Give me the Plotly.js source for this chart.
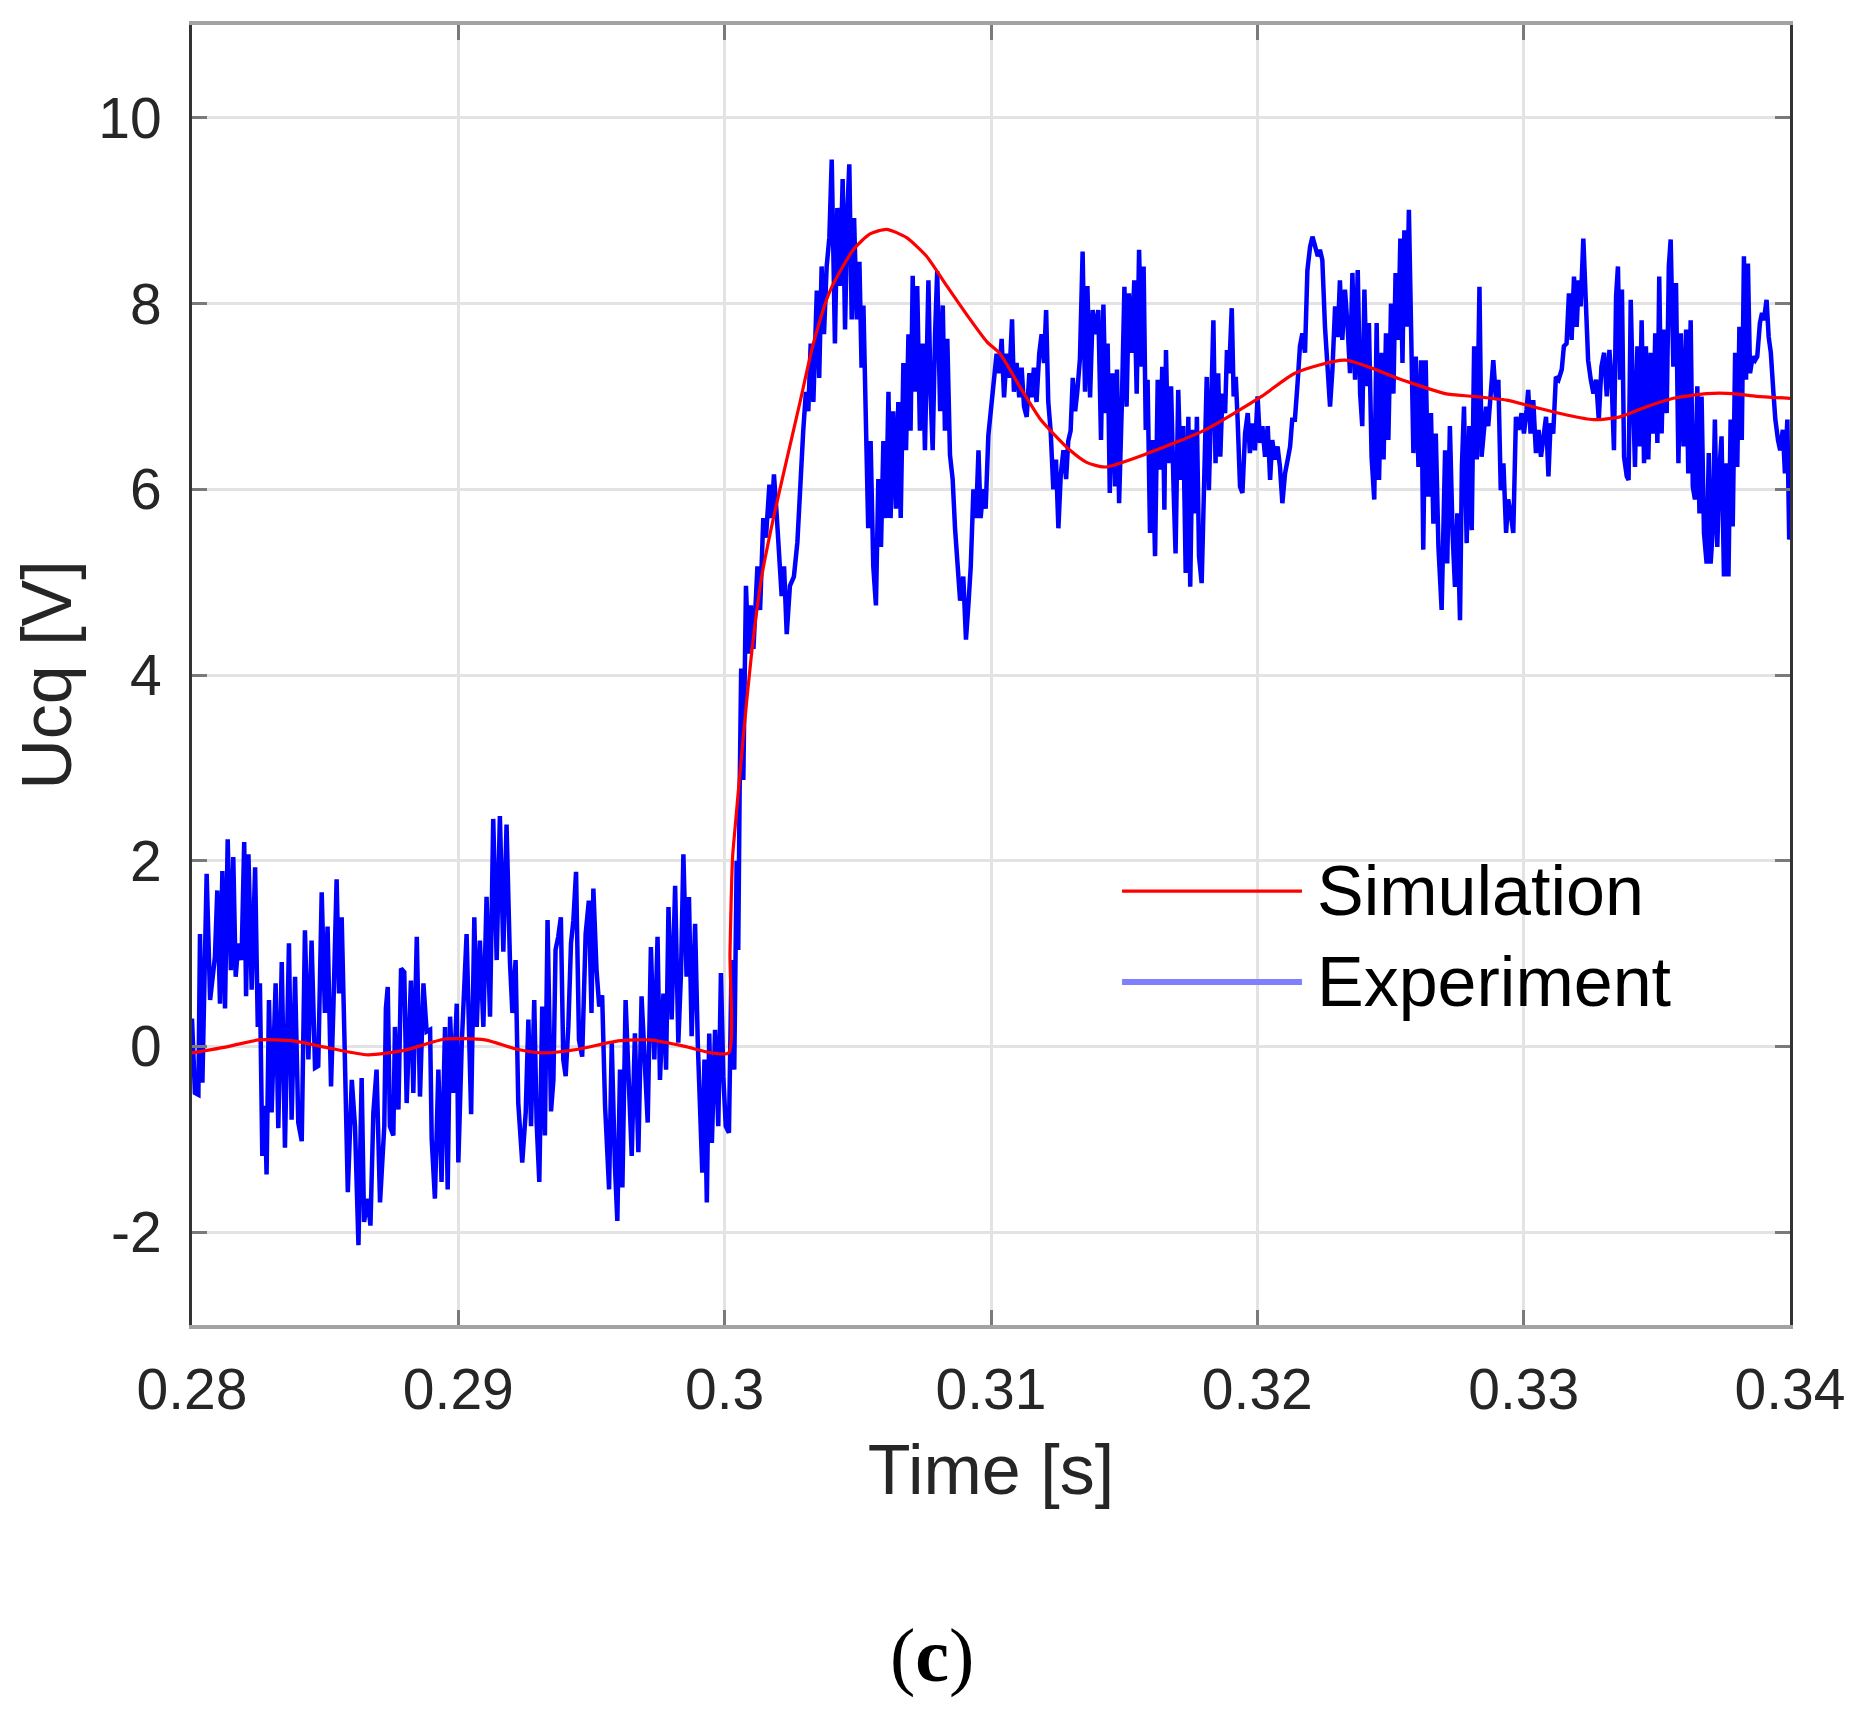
<!DOCTYPE html>
<html>
<head>
<meta charset="utf-8">
<script src="https://cdn.plot.ly/plotly-3.0.1.min.js"></script>
<style>
html,body{margin:0;padding:0;background:#fff;}
#chart{width:1863px;height:1729px;}
</style>
</head>
<body>
<div id="chart"></div>
<script>
// ---- Data ----
const simT = [0.28000,0.28120,0.28250,0.28380,0.28520,0.28660,0.28800,0.28950,0.29100,0.29220,0.29320,0.29450,0.29600,0.29720,0.29850,0.29950,0.30015,0.30020,0.30030,0.30039,0.30070,0.30101,0.30139,0.30183,0.30233,0.30283,0.30333,0.30396,0.30483,0.30546,0.30608,0.30683,0.30758,0.30834,0.30909,0.30984,0.31034,0.31109,0.31184,0.31234,0.31297,0.31359,0.31428,0.31591,0.31804,0.32016,0.32141,0.32329,0.32542,0.32705,0.32811,0.32936,0.33061,0.33161,0.33262,0.33362,0.33462,0.33562,0.33687,0.33787,0.33875,0.34000];
const simV = [-0.07,-0.01,0.07,0.06,-0.02,-0.09,-0.04,0.08,0.07,-0.03,-0.07,-0.03,0.06,0.07,0.00,-0.07,-0.07,1.00,2.05,2.35,3.34,4.23,5.06,5.69,6.32,6.94,7.57,8.14,8.58,8.75,8.80,8.71,8.51,8.19,7.88,7.59,7.46,7.10,6.76,6.60,6.42,6.29,6.24,6.39,6.64,7.00,7.25,7.39,7.18,7.03,7.00,6.96,6.87,6.80,6.75,6.78,6.89,6.98,7.03,7.03,7.00,6.98];

const expT = [
0.28000,0.28011,0.28024,0.28030,0.28039,0.28055,0.28068,0.28086,0.28095,0.28105,0.28114,0.28124,0.28134,0.28146,0.28155,0.28164,0.28174,0.28186,0.28196,0.28203,0.28212,0.28224,0.28237,0.28247,0.28255,0.28264,0.28274,0.28280,0.28289,0.28299,
0.28314,0.28324,0.28337,0.28349,0.28364,0.28374,0.28387,0.28399,0.28412,0.28424,0.28437,0.28449,0.28462,0.28474,0.28487,0.28499,0.28509,0.28522,0.28531,0.28543,0.28552,0.28562,0.28572,0.28585,0.28600,0.28612,0.28625,0.28637,0.28646,0.28660,
0.28670,0.28681,0.28693,0.28706,0.28722,0.28728,0.28735,0.28743,0.28756,0.28762,0.28775,0.28785,0.28797,0.28806,0.28822,0.28831,0.28844,0.28856,0.28869,0.28881,0.28894,0.28900,0.28912,0.28925,0.28937,0.28950,0.28960,0.28969,0.28981,0.28994,
0.29000,0.29013,0.29031,0.29048,0.29060,0.29069,0.29081,0.29094,0.29106,0.29119,0.29131,0.29144,0.29156,0.29169,0.29181,
0.29194,0.29203,0.29215,0.29225,0.29240,0.29253,0.29263,0.29273,0.29285,0.29294,0.29304,0.29315,0.29325,0.29335,0.29348,0.29357,0.29365,0.29375,0.29385,0.29394,0.29403,0.29413,0.29423,0.29432,0.29442,0.29453,0.29465,0.29478,0.29490,0.29500,
0.29507,0.29519,0.29529,0.29540,0.29551,0.29566,0.29576,0.29588,0.29597,0.29607,0.29616,0.29628,0.29641,0.29651,0.29663,0.29676,0.29688,0.29701,0.29711,0.29723,0.29736,0.29748,0.29757,0.29770,0.29780,0.29789,0.29801,0.29814,0.29826,0.29836,
0.29845,0.29857,0.29866,0.29876,0.29889,0.29899,0.29907,0.29916,0.29924,0.29933,0.29942,0.29952,0.29964,0.29976,0.29986,0.29995,0.30004,0.30016,0.30026,0.30036,0.30045,0.30051,0.30056,0.30062,0.30070,
0.30080,0.30089,0.30098,0.30108,0.30123,0.30133,0.30145,0.30155,0.30168,0.30176,0.30185,0.30195,0.30205,0.30214,0.30223,0.30233,0.30245,0.30260,0.30273,0.30283,0.30295,0.30305,0.30314,0.30323,0.30333,0.30346,0.30355,0.30364,0.30373,0.30383,
0.30393,0.30402,0.30414,0.30423,0.30433,0.30443,0.30452,0.30461,0.30468,0.30477,0.30486,0.30496,0.30506,0.30514,0.30521,0.30531,0.30539,0.30548,0.30558,0.30568,0.30577,0.30587,0.30596,0.30606,0.30615,0.30623,0.30633,0.30643,0.30652,0.30661,
0.30671,0.30681,0.30690,0.30698,0.30706,0.30715,0.30723,0.30733,0.30743,0.30752,0.30765,0.30773,0.30781,0.30790,0.30798,0.30809,0.30819,0.30827,0.30836,0.30846,0.30856,0.30865,0.30874,0.30884,0.30896,0.30906,0.30915,0.30924,0.30934,0.30944,
0.30953,0.30961,0.30971,0.30980,0.30990,0.30999,0.31009,0.31021,0.31031,0.31040,0.31049,0.31059,0.31069,0.31079,0.31086,0.31096,0.31106,0.31115,0.31124,0.31134,0.31144,0.31153,0.31161,0.31171,0.31181,0.31190,0.31199,0.31207,0.31215,0.31224,
0.31234,0.31244,0.31253,0.31262,0.31272,0.31282,0.31290,0.31299,0.31307,0.31316,0.31324,0.31334,0.31344,0.31353,0.31362,0.31372,0.31382,0.31391,
0.31403,0.31413,0.31422,0.31431,0.31438,0.31446,0.31456,0.31466,0.31473,0.31481,0.31491,0.31501,0.31509,0.31518,0.31528,0.31538,0.31547,0.31556,0.31566,0.31573,0.31581,0.31588,0.31597,0.31606,0.31616,0.31626,0.31635,0.31643,0.31651,0.31657,
0.31666,0.31676,0.31686,0.31693,0.31703,0.31713,0.31722,0.31731,0.31741,0.31748,0.31757,0.31766,0.31773,0.31781,0.31791,0.31801,0.31810,0.31818,0.31828,0.31835,0.31843,0.31853,0.31861,0.31869,0.31879,0.31886,0.31894,0.31904,0.31911,0.31919,
0.31926,0.31935,0.31944,0.31954,0.31964,0.31972,0.31981,0.31991,0.32001,0.32010,0.32019,0.32029,0.32039,0.32048,0.32056,0.32066,0.32076,0.32085,0.32094,0.32104,0.32114,0.32123,0.32131,0.32141,0.32151,0.32160,0.32169,0.32179,0.32188,0.32198,
0.32207,0.32217,0.32227,0.32235,0.32244,0.32254,0.32264,0.32273,0.32282,0.32292,0.32302,0.32310,0.32319,0.32329,0.32339,0.32348,0.32357,0.32367,0.32377,0.32386,0.32394,0.32402,0.32411,0.32419,0.32429,0.32439,0.32448,0.32457,0.32467,0.32474,
0.32483,0.32492,0.32502,0.32511,0.32519,0.32529,0.32537,0.32545,0.32552,0.32561,0.32569,0.32577,0.32586,0.32595,0.32605,0.32615,0.32623,0.32632,0.32642,0.32652,0.32661,0.32670,0.32680,0.32692,
0.32705,0.32713,0.32723,0.32733,0.32742,0.32751,0.32761,0.32768,0.32776,0.32786,0.32796,0.32805,0.32814,0.32824,0.32834,0.32842,0.32851,0.32859,0.32867,0.32876,0.32886,0.32896,0.32905,0.32914,0.32924,0.32934,0.32942,0.32951,0.32961,0.32971,
0.32981,0.32992,0.33001,0.33011,0.33017,0.33026,0.33036,0.33046,0.33056,0.33065,0.33074,0.33084,0.33093,0.33101,0.33111,0.33121,0.33131,0.33143,0.33151,0.33161,0.33170,0.33180,0.33189,0.33199,0.33207,0.33214,0.33224,0.33233,0.33242,0.33252,
0.33262,0.33272,0.33282,0.33292,0.33302,0.33312,0.33322,0.33330,0.33339,0.33347,0.33354,0.33362,0.33369,0.33377,0.33387,0.33394,0.33402,0.33409,0.33418,0.33427,0.33434,0.33443,0.33452,0.33459,0.33468,0.33477,0.33487,0.33494,0.33502,0.33509,
0.33518,0.33527,0.33537,0.33545,0.33552,0.33562,0.33572,0.33581,0.33590,0.33600,0.33610,0.33618,0.33627,0.33635,0.33643,0.33652,0.33660,0.33668,0.33677,0.33687,0.33695,0.33702,0.33710,0.33718,0.33727,0.33735,0.33743,0.33752,0.33760,0.33769,
0.33777,0.33785,0.33794,0.33802,0.33810,0.33819,0.33827,0.33835,0.33842,0.33850,0.33860,0.33869,0.33877,0.33887,0.33895,0.33902,0.33912,0.33920,0.33928,0.33938,0.33945,0.33955,0.33963,0.33973,0.33981,0.33990,0.33997,0.34000
];
const expV = [
0.30,-0.50,-0.52,1.21,-0.39,1.86,0.50,0.96,1.68,0.46,1.89,0.41,2.23,0.82,2.04,0.75,1.11,0.93,2.20,0.54,2.07,0.61,1.93,0.21,0.68,-1.18,-0.64,-1.38,0.50,-0.71,
0.68,-0.88,0.91,-1.09,1.11,-0.79,0.75,-0.82,-1.02,1.25,-0.14,1.14,-0.23,-0.21,1.66,0.36,1.29,-0.43,0.43,1.80,0.57,1.39,0.14,-1.57,-0.36,-0.86,-2.14,-0.34,-1.89,-1.64,
-1.93,-0.71,-0.25,-1.68,-0.86,0.41,0.64,-0.86,-0.96,0.21,-0.68,0.84,0.80,-0.61,0.71,-0.50,1.18,-0.54,0.68,0.16,0.18,-1.00,-1.64,-0.25,-1.46,0.21,-1.54,0.32,-0.50,0.46,
-1.25,0.04,1.21,-0.73,1.39,0.21,1.14,0.21,1.61,0.32,2.45,0.93,2.48,1.02,2.39,
0.90,0.36,0.93,-0.61,-1.25,-0.71,0.29,-0.86,0.50,-0.82,-1.46,0.43,-0.96,1.36,-0.70,-0.36,1.04,1.18,1.39,-0.14,-0.32,0.21,1.11,1.36,1.88,0.07,-0.11,1.21,1.57,0.36,
1.70,0.82,0.43,0.55,-0.64,-1.54,0.04,-1.29,-1.88,-0.25,-1.52,0.50,-0.50,-1.18,0.14,-1.14,0.54,-0.36,-0.82,1.07,-0.14,1.18,-0.36,0.57,-0.25,1.50,0.29,1.73,0.04,0.79,
2.07,0.75,1.61,0.11,1.32,0.04,-0.64,-1.36,-0.14,-1.68,0.14,-1.04,0.18,-0.86,0.79,-0.32,-0.86,-0.93,0.93,-0.25,2.00,1.04,2.70,4.07,2.87,
4.96,4.23,4.75,4.28,5.17,4.70,5.69,5.48,6.05,5.69,6.16,5.74,5.32,4.85,5.17,4.44,4.96,5.06,5.43,6.05,6.63,7.05,6.84,7.57,6.94,8.14,7.20,8.40,7.67,8.40,
8.71,9.55,7.57,9.03,8.19,9.34,7.72,9.03,9.50,7.83,8.92,7.83,8.45,7.31,7.98,6.63,5.58,6.52,5.17,4.75,6.11,5.38,6.52,5.69,7.05,5.69,6.84,5.79,6.94,5.69,
7.36,6.42,7.67,6.63,8.30,7.05,8.19,6.63,7.57,6.42,8.25,7.05,6.42,7.67,8.35,6.84,7.98,6.63,7.62,6.37,6.11,5.58,5.27,4.80,5.06,4.38,4.75,5.17,6.00,5.69,
6.42,5.69,6.00,5.79,6.58,6.84,7.15,7.46,7.25,7.62,6.99,7.46,7.20,7.83,7.05,7.36,6.99,7.31,6.89,6.78,7.25,6.99,7.31,6.94,7.46,7.67,7.36,7.93,6.94,6.63,
6.00,6.32,5.58,6.16,6.42,6.11,6.52,6.63,7.20,6.84,7.05,7.41,8.56,7.05,8.19,6.99,7.93,7.67,
7.93,6.53,7.99,6.82,7.57,5.96,7.25,6.03,7.29,5.85,6.89,8.18,6.89,8.11,7.47,8.25,7.03,8.58,7.32,8.40,6.64,7.18,5.53,6.53,5.28,7.18,6.21,7.32,5.78,7.50,
6.28,7.11,5.96,5.31,7.07,6.10,6.68,5.10,6.78,4.95,6.64,5.74,6.78,5.28,4.99,6.24,7.21,5.99,7.32,7.82,6.28,7.25,6.35,7.03,6.82,7.50,7.25,7.95,7.00,7.21,
6.75,6.03,5.96,6.60,6.82,6.39,6.71,6.42,7.00,6.50,6.68,6.35,6.68,6.10,6.53,6.32,6.46,6.24,5.85,6.17,6.32,6.46,6.75,6.75,7.14,7.54,7.68,7.47,8.36,8.61,
8.72,8.61,8.51,8.58,8.47,7.75,7.32,6.89,7.29,7.97,7.64,8.25,7.61,8.15,7.75,7.25,8.33,7.18,8.36,7.03,6.68,8.15,7.11,7.79,6.35,5.89,7.79,6.10,7.47,6.32,
7.68,6.53,8.00,7.03,8.33,7.61,8.70,7.36,8.79,7.75,9.01,7.54,6.39,7.43,6.24,7.39,5.35,7.39,5.92,6.82,5.63,6.60,5.38,4.70,
6.42,5.20,6.68,5.53,4.95,5.74,4.59,6.24,6.89,5.42,6.68,5.56,7.54,6.32,8.18,6.35,6.60,6.89,6.68,7.11,7.39,6.96,7.18,5.99,6.28,5.53,5.89,5.74,5.53,6.78,
6.64,6.82,6.60,6.86,7.07,6.60,6.96,6.39,6.64,6.35,6.57,6.78,6.14,6.71,6.60,7.21,7.18,7.29,7.54,7.57,8.11,7.61,8.29,7.75,8.25,7.97,8.70,8.11,7.39,7.18,
7.03,7.18,6.75,7.32,7.47,7.00,7.50,7.18,6.42,8.08,8.40,7.18,8.15,6.35,6.14,6.10,8.04,7.18,6.24,7.54,6.46,7.82,6.28,7.54,6.32,7.47,6.60,7.68,6.50,8.29,
6.60,7.72,6.82,8.40,8.69,7.32,8.22,6.28,7.68,6.46,7.72,6.17,7.82,6.03,5.89,7.11,5.74,7.00,5.53,5.20,6.39,5.20,5.56,6.75,5.38,6.21,6.57,5.06,6.28,5.06,
6.75,5.60,7.47,6.24,7.75,6.53,8.51,7.18,8.43,7.25,7.43,7.39,7.43,7.79,7.90,7.82,8.04,7.64,7.47,7.03,6.75,6.53,6.42,6.64,6.17,6.75,5.46,5.50
];

const xTickVals = [0.28,0.29,0.30,0.31,0.32,0.33,0.34];
const xTickText = ['0.28','0.29','0.3','0.31','0.32','0.33','0.34'];
const yTickVals = [-2,0,2,4,6,8,10];
const yTickText = ['-2','0','2','4','6','8','10'];
const seriesNames = ['Simulation','Experiment'];
const xTitle = 'Time [s]';
const yTitle = 'Ucq [V]';
const panelLabel = '(<b>c</b>)';

// ---- Chart ----
const FONT = 'Liberation Sans, Arial, Helvetica, sans-serif';
const RED = '#ff0000';
const BLUE = '#0000ff';
const BLUE_LEG = '#7f7fff';

const traces = [
  {x: expT, y: expV, type: 'scatter', mode: 'lines', name: seriesNames[1],
   line: {color: BLUE, width: 4.5}, showlegend: false, hoverinfo: 'skip'},
  {x: simT, y: simV, type: 'scatter', mode: 'lines', name: seriesNames[0],
   line: {color: RED, width: 3.2, shape: 'spline', smoothing: 0.6}, showlegend: false, hoverinfo: 'skip'}
];

const axisCommon = {
  showgrid: true, gridcolor: '#e3e3e3', gridwidth: 3,
  zeroline: false, showline: true, mirror: 'ticks',
  ticks: 'inside', ticklen: 15, tickwidth: 3, tickcolor: '#7a7a7a',
  tickfont: {family: FONT, size: 57, color: '#262626'},
  tickmode: 'array'
};

const layout = {
  width: 1863, height: 1729,
  margin: {l: 192, r: 73, t: 25, b: 404, pad: 0},
  paper_bgcolor: '#ffffff', plot_bgcolor: '#ffffff',
  showlegend: false,
  font: {family: FONT, color: '#262626'},
  xaxis: Object.assign({}, axisCommon, {
    range: [0.28, 0.34], tickvals: xTickVals, ticktext: xTickText,
    linecolor: '#a3a3a3', linewidth: 4,
    ticklabelstandoff: 12,
    title: {text: xTitle, font: {family: FONT, size: 70, color: '#262626'}, standoff: 26}
  }),
  yaxis: Object.assign({}, axisCommon, {
    range: [-3, 11], tickvals: yTickVals, ticktext: yTickText,
    linecolor: '#333333', linewidth: 3,
    ticklabelstandoff: 16,
    title: {text: yTitle, font: {family: FONT, size: 70, color: '#262626'}, standoff: 4}
  }),
  shapes: [
    {type: 'line', xref: 'paper', yref: 'paper', x0: 0.582, x1: 0.6946, y0: 0.3338, y1: 0.3338,
     line: {color: RED, width: 3.2}},
    {type: 'line', xref: 'paper', yref: 'paper', x0: 0.582, x1: 0.6946, y0: 0.2638, y1: 0.2638,
     line: {color: BLUE_LEG, width: 6}}
  ],
  annotations: [
    {xref: 'paper', yref: 'paper', x: 0.7025, y: 0.3338, xanchor: 'left', yanchor: 'middle',
     text: seriesNames[0], showarrow: false, font: {family: FONT, size: 70, color: '#000000'}},
    {xref: 'paper', yref: 'paper', x: 0.7025, y: 0.2638, xanchor: 'left', yanchor: 'middle',
     text: seriesNames[1], showarrow: false, font: {family: FONT, size: 70, color: '#000000'}},
    {xref: 'paper', yref: 'paper', x: 0.4628, y: -0.2546, xanchor: 'center', yanchor: 'middle',
     text: panelLabel, showarrow: false, font: {family: 'Liberation Serif, Times New Roman, serif', size: 76, color: '#000000'}}
  ]
};

Plotly.newPlot('chart', traces, layout, {staticPlot: true, displayModeBar: false});
</script>
</body>
</html>
